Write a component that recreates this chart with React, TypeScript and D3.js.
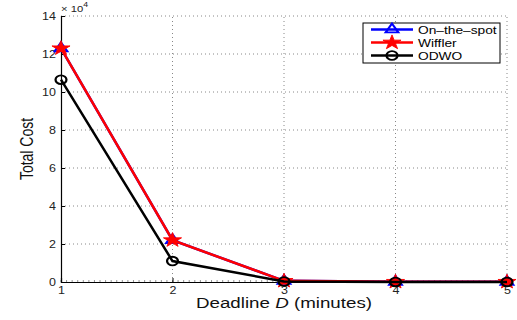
import React, { useEffect, useRef } from "react";
import * as d3 from "d3";

const deadlines = [1, 2, 3, 4, 5];
const onTheSpot = [12.3, 2.2, 0.06, 0.01, 0.01];
const wiffler = [12.3, 2.2, 0.06, 0.01, 0.01];
const odwo = [10.65, 1.1, 0.03, 0.005, 0.005];
const yTicks = [0, 2, 4, 6, 8, 10, 12, 14];
const seriesNames = ["On\u2013the\u2013spot", "Wiffler", "ODWO"];

// the original figure is stretched sideways, so text and markers are too
const SX = 1.25;

const App = () => {
  const ref = useRef<SVGSVGElement>(null);

  useEffect(() => {
    const width = 517;
    const height = 320;
    const margin = { top: 16, right: 10, bottom: 38, left: 61 };
    const svg = d3.select(ref.current);
    svg.selectAll("*").remove();
    svg.attr("width", width).attr("height", height);
    svg.append("rect").attr("width", width).attr("height", height).attr("fill", "#fff");

    const x = d3.scaleLinear().domain([1, 5]).range([margin.left, width - margin.right]);
    const y = d3.scaleLinear().domain([0, 14]).range([height - margin.bottom, margin.top]);
    const font = "Liberation Sans, Arial, Helvetica, sans-serif";

    // dotted grid
    const grid = svg.append("g").attr("stroke", "#888").attr("stroke-width", 1).attr("stroke-dasharray", "1,3");
    yTicks.slice(1).forEach((t) => {
      grid.append("line").attr("x1", x(1)).attr("x2", x(5)).attr("y1", y(t)).attr("y2", y(t));
    });
    deadlines.slice(1).forEach((d) => {
      grid.append("line").attr("x1", x(d)).attr("x2", x(d)).attr("y1", y(0)).attr("y2", y(14));
    });

    // minor ticks on x axis
    svg
      .append("g")
      .selectAll("line")
      .data(d3.range(1, 5.001, 0.05))
      .enter()
      .append("line")
      .attr("x1", (d) => x(d))
      .attr("x2", (d) => x(d))
      .attr("y1", y(0))
      .attr("y2", y(0) - 2)
      .attr("stroke", "#777")
      .attr("stroke-width", 0.8);

    // axes
    const yAxis = svg
      .append("g")
      .attr("transform", `translate(${margin.left},0)`)
      .call(d3.axisLeft(y).tickValues(yTicks).tickSize(-4).tickPadding(4).tickFormat((d) => `${d}`));
    const xAxis = svg
      .append("g")
      .attr("transform", `translate(0,${y(0)})`)
      .call(d3.axisBottom(x).tickValues(deadlines).tickSize(-4).tickPadding(5).tickFormat((d) => `${d}`));
    [xAxis, yAxis].forEach((g) => {
      g.select(".domain").attr("stroke", "#000").attr("stroke-width", 1.2);
      g.selectAll(".tick line").attr("stroke", "#000");
      g.selectAll("text")
        .attr("font-family", font)
        .attr("font-size", 10)
        .attr("fill", "#222")
        .attr("transform", `scale(${SX},1)`);
    });

    // exponent label
    const exp = svg
      .append("text")
      .attr("transform", `translate(${margin.left},12) scale(${SX},1)`)
      .attr("font-family", font)
      .attr("font-size", 9)
      .attr("fill", "#222");
    exp.append("tspan").text("\u00d7 10");
    exp.append("tspan").attr("dy", -5).attr("font-size", 7).text("4");

    const line = d3
      .line<number>()
      .x((_, i) => x(deadlines[i]))
      .y((d) => y(d));

    const colors = ["#0000ff", "#ff0000", "#000000"];
    const data = [onTheSpot, wiffler, odwo];

    const triangle = d3.symbol().type(d3.symbolTriangle).size(45);
    const star = d3.symbol().type(d3.symbolStar).size(65);
    const circle = d3.symbol().type(d3.symbolCircle).size(60);

    const drawMarker = (g: any, idx: number, cx: number, cy: number) => {
      const p = g.append("path").attr("transform", `translate(${cx},${cy}) scale(${SX},1)`);
      if (idx === 0) {
        p.attr("d", triangle()).attr("fill", "none").attr("stroke", colors[0]).attr("stroke-width", 1.8);
      } else if (idx === 1) {
        p.attr("d", star()).attr("fill", colors[1]).attr("stroke", colors[1]).attr("stroke-width", 0.8);
      } else {
        p.attr("d", circle()).attr("fill", "none").attr("stroke", colors[2]).attr("stroke-width", 1.8);
      }
    };

    data.forEach((vals, idx) => {
      const g = svg.append("g");
      g.append("path")
        .attr("d", line(vals))
        .attr("fill", "none")
        .attr("stroke", colors[idx])
        .attr("stroke-width", 2.5);
      vals.forEach((v, i) => drawMarker(g, idx, x(deadlines[i]), y(v)));
    });

    // legend
    const lg = svg.append("g");
    lg.append("rect")
      .attr("x", 363)
      .attr("y", 23)
      .attr("width", 137)
      .attr("height", 40)
      .attr("fill", "#fff")
      .attr("stroke", "#000")
      .attr("stroke-width", 1);
    seriesNames.forEach((name, i) => {
      const ly = 29.5 + i * 13;
      lg.append("line")
        .attr("x1", 371)
        .attr("x2", 413)
        .attr("y1", ly)
        .attr("y2", ly)
        .attr("stroke", colors[i])
        .attr("stroke-width", 2.5);
      drawMarker(lg, i, 392, ly);
      lg.append("text")
        .attr("transform", `translate(418,${ly + 4}) scale(${SX},1)`)
        .attr("font-family", font)
        .attr("font-size", 11)
        .attr("fill", "#000")
        .text(name);
    });

    // axis labels
    const xl = svg
      .append("text")
      .attr("transform", `translate(${(margin.left + width - margin.right) / 2},308) scale(${SX},1)`)
      .attr("text-anchor", "middle")
      .attr("font-family", font)
      .attr("font-size", 15)
      .attr("fill", "#111");
    xl.append("tspan").text("Deadline ");
    xl.append("tspan").attr("font-style", "italic").text("D");
    xl.append("tspan").text(" (minutes)");

    svg
      .append("text")
      .attr("transform", `translate(33,${(y(0) + y(14)) / 2}) scale(${SX},1) rotate(-90)`)
      .attr("text-anchor", "middle")
      .attr("font-family", font)
      .attr("font-size", 14)
      .attr("fill", "#111")
      .text("Total Cost");
  }, []);

  return <svg ref={ref} style={{ position: "absolute", left: 0, top: 0 }}></svg>;
};

export default App;
